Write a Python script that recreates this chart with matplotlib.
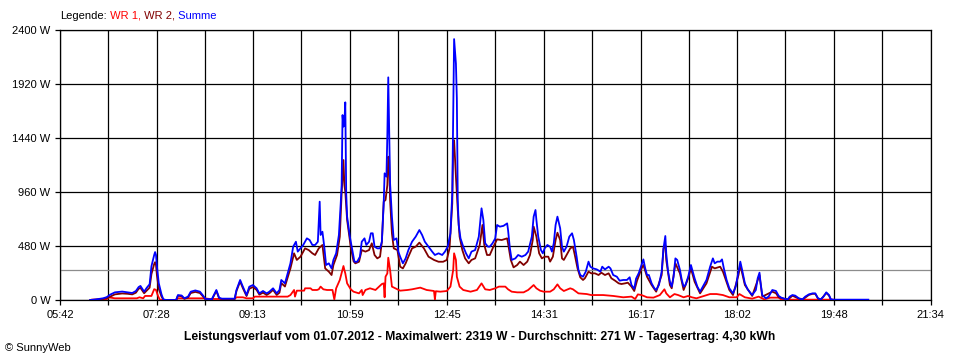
import matplotlib
matplotlib.use("Agg")
import matplotlib.pyplot as plt
from matplotlib.ticker import FixedLocator

plt.rcParams['font.family'] = ['Liberation Sans', 'DejaVu Sans']

# ---- data -------------------------------------------------------------
x_labels = ["05:42", "07:28", "09:13", "10:59", "12:45", "14:31",
            "16:17", "18:02", "19:48", "21:34"]
y_ticks = [0, 480, 960, 1440, 1920, 2400]
average_w = 271
max_w = 2319
energy_kwh = "4,30"
day = "01.07.2012"

# Summe (time, W)
summe = [("06:15",0),("06:21",5),("06:29",15),("06:33",25),("06:37",48),("06:42",68),("06:50",75),("06:56",68),
 ("07:01",62),("07:05",80),("07:08",115),("07:10",125),("07:14",74),("07:17",110),("07:20",140),("07:22",300),
 ("07:25",400),("07:26",426),("07:27",400),("07:28",300),("07:30",150),("07:33",50),("07:35",6),("07:38",0),
 ("07:49",0),("07:51",44),("07:55",40),("07:58",15),("08:02",30),("08:05",74),("08:10",85),("08:15",74),
 ("08:18",44),("08:21",10),("08:28",6),("08:33",89),("08:36",20),("08:39",12),("08:53",12),("08:55",89),
 ("08:59",178),("09:02",118),("09:06",44),("09:09",118),("09:13",133),("09:17",104),("09:20",59),("09:24",80),
 ("09:28",59),("09:31",74),("09:35",104),("09:39",59),("09:42",89),("09:44",178),("09:48",148),("09:51",237),
 ("09:54",326),("09:57",474),("10:00",518),("10:02",430),("10:05",459),("10:08",489),("10:12",548),("10:15",533),
 ("10:18",489),("10:21",489),("10:24",518),("10:26",874),("10:27",578),("10:29",607),("10:31",474),("10:33",311),
 ("10:36",326),("10:39",281),("10:41",356),("10:44",415),("10:47",578),("10:49",859),("10:50",1022),("10:51",1644),
 ("10:52",1541),("10:53",1570),("10:54",1757),("10:55",948),("10:56",741),("10:59",563),("11:01",474),("11:04",340),
 ("11:07",340),("11:10",385),("11:12",518),("11:15",548),("11:17",489),("11:20",518),("11:22",593),("11:24",593),
 ("11:26",474),("11:29",459),("11:32",459),("11:34",518),("11:36",859),("11:37",1126),("11:39",1096),("11:40",1467),
 ("11:41",1979),("11:43",1037),("11:44",889),("11:45",741),("11:47",533),("11:50",548),("11:52",430),("11:54",385),
 ("11:57",326),("12:00",370),("12:03",444),("12:07",518),("12:11",563),("12:15",622),("12:18",578),("12:21",518),
 ("12:25",474),("12:29",430),("12:32",400),("12:36",415),("12:40",400),("12:43",430),("12:46",474),("12:49",593),
 ("12:51",948),("12:52",1600),("12:53",2319),("12:55",2100),("12:56",1793),("12:57",889),("12:58",667),("13:00",548),
 ("13:03",474),("13:06",415),("13:09",370),("13:12",430),("13:16",444),("13:20",563),("13:23",815),("13:25",711),
 ("13:27",504),("13:30",474),("13:32",474),("13:35",504),("13:38",548),("13:40",667),("13:43",652),("13:47",659),
 ("13:51",681),("13:52",622),("13:54",459),("13:56",356),("14:00",370),("14:03",400),("14:07",385),("14:11",400),
 ("14:14",430),("14:18",563),("14:20",741),("14:22",800),("14:23",711),("14:25",563),("14:28",444),("14:30",415),
 ("14:32",459),("14:35",489),("14:38",474),("14:40",430),("14:42",504),("14:44",667),("14:46",741),("14:49",637),
 ("14:51",474),("14:53",430),("14:56",474),("14:59",563),("15:02",593),("15:04",533),("15:07",385),("15:09",267),
 ("15:11",222),("15:14",207),("15:17",252),("15:20",341),("15:22",296),("15:25",281),("15:29",272),("15:33",252),
 ("15:35",296),("15:38",272),("15:42",296),("15:44",281),("15:47",222),("15:51",207),("15:54",172),("15:58",178),
 ("16:02",178),("16:05",202),("16:07",133),("16:10",100),("16:12",190),("16:15",240),("16:18",311),("16:20",361),
 ("16:22",281),("16:24",222),("16:26",222),("16:29",148),("16:32",104),("16:34",89),("16:37",133),("16:40",252),
 ("16:42",459),("16:44",569),("16:45",415),("16:47",252),("16:49",163),("16:51",119),("16:53",207),("16:55",370),
 ("16:57",356),("17:00",267),("17:02",178),("17:04",119),("17:06",133),("17:09",207),("17:12",311),("17:14",252),
 ("17:16",193),("17:19",119),("17:22",74),("17:25",119),("17:29",178),("17:33",296),("17:36",370),("17:38",326),
 ("17:41",341),("17:44",341),("17:46",361),("17:48",281),("17:51",178),("17:54",104),("17:58",59),("18:01",119),
 ("18:04",252),("18:06",341),("18:08",267),("18:11",148),("18:14",95),("18:19",44),("18:23",89),("18:25",193),
 ("18:27",243),("18:28",163),("18:30",44),("18:34",15),("18:37",30),("18:41",89),("18:45",80),("18:48",36),
 ("18:51",20),("18:54",12),("18:58",6),("19:00",30),("19:03",44),("19:06",39),("19:10",15),("19:14",6),
 ("19:17",30),("19:21",50),("19:25",59),("19:28",59),("19:31",15),("19:34",6),("19:37",30),("19:40",68),
 ("19:43",44),("19:45",6),("19:48",3),("20:26",3)]

# WR 2 (time, W)
wr2 = [("06:15",0),("06:21",3),("06:29",8),("06:33",15),("06:37",30),("06:42",50),("06:50",58),("06:56",55),
 ("07:01",50),("07:05",65),("07:08",100),("07:10",108),("07:14",60),("07:17",85),("07:20",110),("07:22",230),
 ("07:25",320),("07:26",336),("07:27",310),("07:28",220),("07:30",100),("07:33",30),("07:35",3),("07:38",0),
 ("07:49",0),("07:51",38),("07:55",33),("07:58",10),("08:02",22),("08:05",62),("08:10",72),("08:15",62),
 ("08:18",35),("08:21",5),("08:28",3),("08:33",80),("08:36",15),("08:39",8),("08:53",8),("08:55",80),
 ("08:59",165),("09:02",105),("09:06",35),("09:09",100),("09:13",115),("09:17",90),("09:20",48),("09:24",65),
 ("09:28",45),("09:31",60),("09:35",90),("09:39",45),("09:42",65),("09:44",150),("09:48",120),("09:51",200),
 ("09:54",281),("09:58",415),("10:01",356),("10:05",385),("10:10",459),("10:14",444),("10:18",415),("10:21",400),
 ("10:25",459),("10:27",474),("10:29",489),("10:32",281),("10:36",252),("10:39",222),("10:41",311),("10:45",400),
 ("10:48",563),("10:50",948),("10:51",1096),("10:52",1244),("10:53",1022),("10:54",963),("10:55",830),("10:56",711),
 ("11:00",470),("11:03",345),("11:05",326),("11:09",340),("11:12",444),("11:16",430),("11:20",444),("11:23",504),
 ("11:26",400),("11:29",370),("11:32",385),("11:34",518),("11:36",874),("11:38",889),("11:40",1022),("11:41",1274),
 ("11:42",1244),("11:43",889),("11:45",593),("11:47",459),("11:51",444),("11:54",296),("11:57",281),("12:00",326),
 ("12:03",385),("12:07",459),("12:11",474),("12:15",510),("12:20",459),("12:25",385),("12:31",356),("12:36",340),
 ("12:41",340),("12:45",356),("12:48",459),("12:51",859),("12:52",1378),("12:53",1420),("12:55",1096),("12:57",800),
 ("12:59",563),("13:02",444),("13:05",370),("13:09",326),("13:12",356),("13:16",370),("13:21",489),("13:24",667),
 ("13:26",489),("13:29",400),("13:32",400),("13:36",474),("13:40",539),("13:45",533),("13:51",548),("13:52",504),
 ("13:55",356),("13:58",290),("14:02",311),("14:05",341),("14:09",311),("14:13",341),("14:16",400),("14:19",533),
 ("14:20",652),("14:23",563),("14:26",415),("14:29",370),("14:32",385),("14:36",385),("14:38",341),("14:41",385),
 ("14:44",533),("14:46",598),("14:49",533),("14:51",370),("14:53",356),("14:56",400),("15:00",459),("15:03",474),
 ("15:05",400),("15:08",281),("15:11",201),("15:14",178),("15:16",193),("15:20",252),("15:23",237),("15:27",237),
 ("15:31",222),("15:34",243),("15:38",222),("15:42",237),("15:45",193),("15:49",172),("15:53",148),("15:56",142),
 ("16:00",148),("16:03",154),("16:07",119),("16:10",80),("16:13",170),("16:18",281),("16:20",311),("16:24",207),
 ("16:29",133),("16:34",74),("16:40",222),("16:42",459),("16:44",489),("16:45",356),("16:49",133),("16:51",104),
 ("16:55",326),("17:00",237),("17:04",89),("17:09",193),("17:12",281),("17:16",163),("17:22",59),("17:29",148),
 ("17:35",296),("17:38",281),("17:44",296),("17:47",252),("17:54",89),("17:58",44),("18:04",222),("18:06",311),
 ("18:11",133),("18:19",36),("18:27",222),("18:30",30),("18:41",74),("18:45",60),("18:48",24),("18:58",3),
 ("19:03",38),("19:10",12),("19:14",3),("19:21",45),("19:25",55),("19:28",55),("19:31",12),("19:34",3),
 ("19:40",62),("19:43",40),("19:45",3),("19:48",0)]

# WR 1 (time, W)
wr1 = [("06:17",3),("06:33",6),("06:35",24),("06:42",15),("07:06",15),("07:09",24),("07:13",15),("07:15",36),
 ("07:22",36),("07:25",96),("07:27",90),("07:29",40),("07:31",5),("07:33",0),("07:49",0),("07:51",15),
 ("08:20",15),("08:26",9),("08:53",9),("08:55",24),("09:02",24),("09:06",15),("09:13",15),("09:15",30),
 ("09:51",30),("09:54",44),("09:58",89),("09:59",30),("10:01",83),("10:09",83),("10:10",104),("10:16",104),
 ("10:18",89),("10:23",89),("10:25",95),("10:27",119),("10:30",95),("10:34",89),("10:40",89),("10:42",5),
 ("10:44",104),("10:48",178),("10:52",302),("10:53",267),("10:54",237),("10:56",148),("11:00",95),("11:03",74),
 ("11:09",59),("11:12",89),("11:13",44),("11:16",89),("11:21",104),("11:27",89),("11:31",119),("11:34",142),
 ("11:36",148),("11:37",24),("11:38",207),("11:40",237),("11:41",376),("11:43",267),("11:45",119),("11:51",95),
 ("11:54",83),("12:02",89),("12:07",95),("12:16",110),("12:23",89),("12:31",80),("12:32",6),("12:33",78),
 ("12:38",74),("12:45",80),("12:49",119),("12:52",267),("12:53",415),("12:55",356),("12:56",207),("12:59",119),
 ("13:03",89),("13:11",74),("13:18",89),("13:23",148),("13:27",95),("13:32",89),("13:38",104),("13:42",119),
 ("13:49",119),("13:52",95),("13:56",74),("14:02",68),("14:09",68),("14:14",89),("14:20",133),("14:23",104),
 ("14:27",83),("14:31",74),("14:38",74),("14:42",95),("14:46",139),("14:49",104),("14:53",80),("15:00",104),
 ("15:03",95),("15:09",59),("15:18",53),("15:23",44),("15:36",44),("15:47",36),("15:58",24),("16:07",30),
 ("16:11",9),("16:14",50),("16:18",44),("16:24",24),("16:31",21),("16:38",44),("16:43",95),("16:45",59),
 ("16:49",24),("16:54",53),("16:58",44),("17:04",24),("17:09",36),("17:13",24),("17:18",15),("17:24",30),
 ("17:33",53),("17:40",53),("17:47",44),("17:54",24),("18:02",24),("18:05",53),("18:11",24),("18:19",12),
 ("18:26",30),("18:32",6),("18:39",21),("18:48",21),("18:51",3),("19:48",3),("19:50",0)]


def minutes(s):
    h, m = s.split(":")
    return int(h) * 60 + int(m)


def split(series):
    return [minutes(t) for t, _ in series], [w for _, w in series]


# ---- figure -----------------------------------------------------------
fig = plt.figure(figsize=(9.6, 3.6), dpi=100)
fig.patch.set_facecolor("white")
ax = fig.add_axes([60 / 960, 60 / 360, 870.5 / 960, 270 / 360])

major = [minutes(s) for s in x_labels]
minor = [(a + b) / 2 for a, b in zip(major[:-1], major[1:])]
ax.set_xlim(major[0], major[-1])
ax.set_ylim(y_ticks[0], y_ticks[-1])
ax.xaxis.set_major_locator(FixedLocator(major))
ax.xaxis.set_minor_locator(FixedLocator(minor))
ax.set_xticklabels(x_labels)
ax.set_yticks(y_ticks)
ax.set_yticklabels([f"{v} W" for v in y_ticks])
ax.grid(True, which="both", color="black", lw=0.9)
ax.tick_params(which="both", direction="out", length=3.6, width=0.9,
               color="black", labelsize=8)
ax.tick_params(axis="x", pad=3.5)
ax.tick_params(axis="y", pad=3.2)
for sp in ax.spines.values():
    sp.set_color("black")
    sp.set_linewidth(0.9)

ax.axhline(average_w, color="#8c8c8c", lw=0.9, zorder=1.8)

t, w = split(wr1)
ax.plot(t, w, color="#ff0000", lw=1.3, zorder=3)
t, w = split(wr2)
ax.plot(t, w, color="#800000", lw=1.3, zorder=3.1)
t, w = split(summe)
ax.plot(t, w, color="#0000ff", lw=1.3, zorder=3.2)

# legend line at top
t1 = fig.text(60 / 960, 1 - 16 / 360, "Legende:", fontsize=8, va="center", color="black")
prev = t1
for label, col in [(" WR 1,", "#ff0000"), (" WR 2,", "#800000"), (" Summe", "#0000ff")]:
    prev = ax.annotate(label, xy=(1, 0), xycoords=prev, va="bottom", ha="left",
                       fontsize=8, color=col, annotation_clip=False)

title = (f"Leistungsverlauf vom {day} - Maximalwert: {max_w} W - "
         f"Durchschnitt: {average_w} W - Tagesertrag: {energy_kwh} kWh")
fig.text(0.5, 1 - 337 / 360, title, ha="center", va="center", fontsize=8.7, fontweight="bold")
fig.text(5 / 960, 1 - 348 / 360, "© SunnyWeb", ha="left", va="center", fontsize=8)

fig.savefig("out.png", dpi=100, facecolor="white")
